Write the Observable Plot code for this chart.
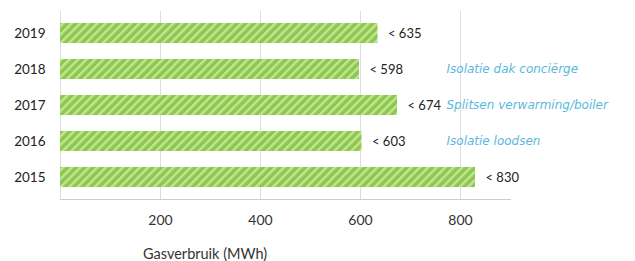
<!DOCTYPE html>
<html>
<head>
<meta charset="utf-8">
<script src="https://cdn.jsdelivr.net/npm/d3@7"></script>
<script src="https://cdn.jsdelivr.net/npm/@observablehq/plot@0.6"></script>
<style>
  body { margin: 0; background: #fff; font-family: Lato, "Open Sans", sans-serif; }
  #chart { position: relative; width: 635px; }
  .xlabel { font-size: 14.5px; color: #333; margin-left: 143px; margin-top: 9px; }
</style>
</head>
<body>
<div id="chart"></div>
<script>
const years = ["2019", "2018", "2017", "2016", "2015"];
const gas = [635, 598, 674, 603, 830];
const notes = ["", "Isolatie dak conciërge", "Splitsen verwarming/boiler", "Isolatie loodsen", ""];
const xTicks = [200, 400, 600, 800];
const gridTicks = [0, 200, 400, 600, 800];
const axisLabel = "Gasverbruik (MWh)";

const data = years.map((y, i) => ({year: y, value: gas[i], note: notes[i]}));

const plot = Plot.plot({
  width: 635,
  height: 236,
  marginLeft: 60,
  marginRight: 125,
  marginTop: 11,
  marginBottom: 37,
  style: {fontFamily: "Lato, 'Open Sans', sans-serif", fontSize: "13px", color: "#333"},
  x: {domain: [0, 900], label: null},
  y: {domain: years, label: null, paddingInner: 0.44, paddingOuter: 0.29},
  marks: [
    Plot.gridX(gridTicks, {stroke: "#ddd", strokeOpacity: 1}),
    Plot.barX(data, {y: "year", x: "value", fill: "url(#hatch)"}),
    Plot.frame({anchor: "bottom", stroke: "#ccc"}),
    Plot.axisX(xTicks, {tickSize: 0, tickPadding: 16, fontSize: 14, fill: "#333"}),
    Plot.axisY({tickSize: 0, tickPadding: 15, fontSize: 13.5, fill: "#222"}),
    Plot.text(data, {y: "year", x: "value", text: d => "< " + d.value, dx: 10, textAnchor: "start", fontSize: 13, fill: "#222"}),
    Plot.text(data.filter(d => d.note), {y: "year", frameAnchor: "right", text: "note", dx: -64, textAnchor: "start", fontSize: 12, fontFamily: "'DejaVu Sans', sans-serif", fontStyle: "italic", fill: "#5ab8de"})
  ]
});

const svgNS = "http://www.w3.org/2000/svg";
const defs = document.createElementNS(svgNS, "defs");
defs.innerHTML = `<pattern id="hatch" patternUnits="userSpaceOnUse" width="6" height="6" patternTransform="rotate(45)">
  <rect width="6" height="6" fill="#8cc84b"></rect>
  <rect width="2.4" height="6" fill="#c3e597"></rect>
</pattern>`;
plot.insertBefore(defs, plot.firstChild);

document.getElementById("chart").appendChild(plot);
const lab = document.createElement("div");
lab.className = "xlabel";
lab.textContent = axisLabel;
document.getElementById("chart").appendChild(lab);
</script>
</body>
</html>
